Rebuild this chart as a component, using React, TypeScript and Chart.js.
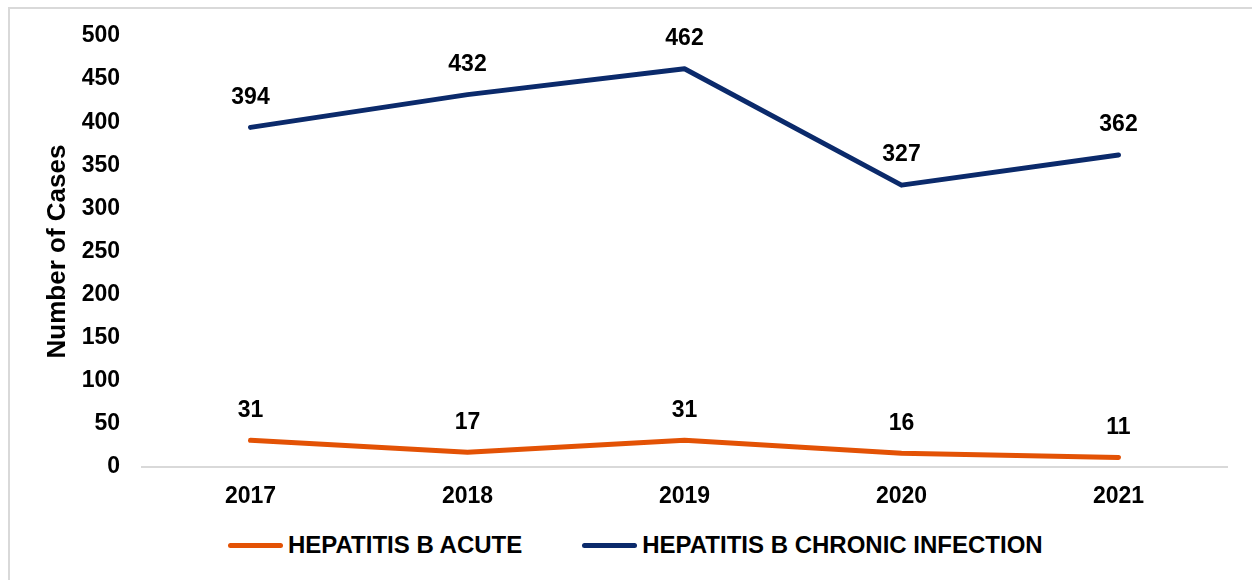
import React, { useEffect, useRef } from "react";
import { Chart, registerables } from "chart.js";

Chart.register(...registerables);

const years = ["2017", "2018", "2019", "2020", "2021"];
const acuteCases = [31, 17, 31, 16, 11];
const chronicCases = [394, 432, 462, 327, 362];
const seriesNames = ["HEPATITIS B ACUTE", "HEPATITIS B CHRONIC INFECTION"];
const seriesColors = ["#E35205", "#0B2A6B"];
const yMin = 0;
const yMax = 500;
const yStep = 50;
const yTitle = "Number of Cases";

const FONT = '"Liberation Sans", Arial, Helvetica, sans-serif';

const valueLabels = {
  id: "valueLabels",
  afterDatasetsDraw(chart: any) {
    const ctx = chart.ctx;
    ctx.save();
    ctx.font = `bold 23px ${FONT}`;
    ctx.fillStyle = "#000";
    ctx.textAlign = "center";
    ctx.textBaseline = "middle";
    chart.data.datasets.forEach((ds: any, i: number) => {
      const meta = chart.getDatasetMeta(i);
      meta.data.forEach((pt: any, j: number) => {
        ctx.fillText(String(ds.data[j]), pt.x, pt.y - 30);
      });
    });
    ctx.restore();
  },
};

export default function App() {
  const ref = useRef<HTMLCanvasElement | null>(null);

  useEffect(() => {
    if (!ref.current) return;
    Chart.defaults.font.family = FONT;
    const chart = new Chart(ref.current, {
      type: "line",
      data: {
        labels: years,
        datasets: [
          {
            label: seriesNames[0],
            data: acuteCases,
            borderColor: seriesColors[0],
            backgroundColor: seriesColors[0],
            borderWidth: 5,
            pointRadius: 0,
            pointHoverRadius: 0,
            tension: 0,
            borderCapStyle: "round",
            borderJoinStyle: "round",
          },
          {
            label: seriesNames[1],
            data: chronicCases,
            borderColor: seriesColors[1],
            backgroundColor: seriesColors[1],
            borderWidth: 5,
            pointRadius: 0,
            pointHoverRadius: 0,
            tension: 0,
            borderCapStyle: "round",
            borderJoinStyle: "round",
          },
        ],
      },
      options: {
        animation: false,
        responsive: false,
        maintainAspectRatio: false,
        devicePixelRatio: 1,
        layout: { padding: { left: 0, right: 25, top: 27, bottom: 0 } },
        plugins: {
          legend: { display: false },
          tooltip: { enabled: false },
        },
        scales: {
          x: {
            offset: true,
            grid: { display: false, drawTicks: false },
            border: { display: true, color: "#d9d9d9", width: 2 },
            ticks: {
              color: "#000",
              font: { size: 23, weight: "bold" },
              padding: 16,
              maxRotation: 0,
            },
            afterFit(s: any) {
              s.height = 57;
            },
          },
          y: {
            min: yMin,
            max: yMax,
            grid: {
              display: true,
              drawOnChartArea: false,
              drawTicks: true,
              tickLength: 22,
              color: "rgba(0,0,0,0)",
            },
            border: { display: false },
            ticks: {
              stepSize: yStep,
              color: "#000",
              font: { size: 23, weight: "bold" },
              padding: 0,
            },
            title: {
              display: true,
              text: yTitle,
              color: "#000",
              font: { size: 26, weight: "bold" },
              padding: { top: 32, bottom: 0 },
            },
            afterFit(s: any) {
              s.width = 132;
              s.paddingTop = 14;
              s.paddingBottom = 14;
            },
          },
        },
      },
      plugins: [valueLabels],
    } as any);
    return () => chart.destroy();
  }, []);

  const legendItem = (i: number) => (
    <div key={i} style={{ display: "flex", alignItems: "center" }}>
      <span
        style={{
          display: "inline-block",
          width: 55,
          height: 5,
          borderRadius: 3,
          background: seriesColors[i],
          marginRight: 5,
        }}
      />
      <span
        style={{
          fontFamily: FONT,
          fontWeight: "bold",
          fontSize: 24,
          color: "#000",
          whiteSpace: "nowrap",
        }}
      >
        {seriesNames[i]}
      </span>
    </div>
  );

  return (
    <div
      style={{
        position: "fixed",
        left: 8,
        top: 7,
        right: 0,
        bottom: 0,
        overflow: "hidden",
        background: "#fff",
      }}
    >
      <div
        style={{
          position: "absolute",
          left: 0,
          top: 0,
          width: 1300,
          height: 640,
          borderLeft: "2px solid #d9d9d9",
          borderTop: "2px solid #d9d9d9",
        }}
      >
        <canvas ref={ref} width={1242} height={515} style={{ display: "block" }} />
      </div>
      <div
        style={{
          position: "absolute",
          left: 220,
          top: 524,
          height: 28,
          display: "flex",
          alignItems: "center",
          gap: 60,
        }}
      >
        {legendItem(0)}
        {legendItem(1)}
      </div>
    </div>
  );
}
